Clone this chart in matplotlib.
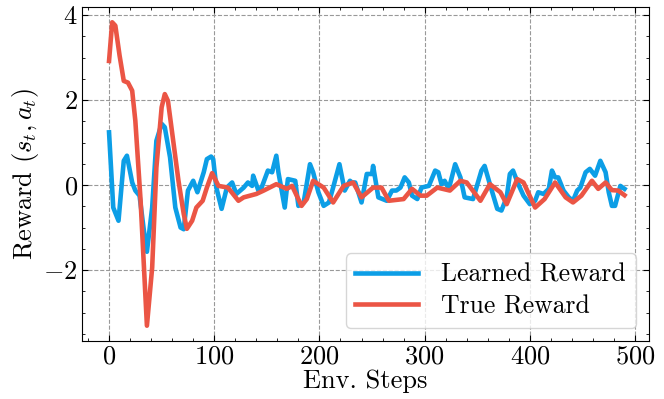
import matplotlib
matplotlib.use("Agg")
import matplotlib.pyplot as plt
from matplotlib.ticker import MultipleLocator

plt.rcParams.update({
    "font.family": "serif",
    "font.serif": ["cmr10", "DejaVu Serif"],
    "mathtext.fontset": "cm",
    "axes.formatter.use_mathtext": True,
    "axes.unicode_minus": True,
})

# Learned reward (blue)
steps_learned = [0, 4, 9, 14, 17, 22, 25, 29, 33, 36, 41, 45, 50, 53, 58, 63, 68, 71,
                 75, 80, 84, 90, 93, 97, 99, 102, 107, 112, 117, 121, 128, 132, 136,
                 137, 142, 145, 151, 155, 159, 161, 167, 170, 177, 180, 185, 191, 194,
                 199, 204, 209, 213, 219, 224, 229, 231, 234, 240, 245, 250, 251, 256,
                 264, 269, 273, 277, 281, 285, 288, 293, 297, 304, 310, 313, 316, 319,
                 323, 329, 334, 338, 346, 354, 357, 362, 369, 373, 378, 381, 384, 389,
                 394, 400, 405, 408, 413, 418, 421, 424, 427, 432, 437, 441, 445, 448,
                 453, 457, 462, 467, 472, 475, 478, 481, 486, 490]
learned = [1.24, -0.53, -0.84, 0.57, 0.69, 0.06, -0.13, -0.25, -1.05, -1.57, -0.53,
           1.04, 1.44, 1.36, 0.65, -0.53, -1.0, -1.04, -0.13, 0.10, -0.17, 0.30, 0.61,
           0.67, 0.61, -0.06, -0.56, -0.06, 0.06, -0.21, -0.06, 0.06, -0.02, 0.22,
           -0.13, -0.06, 0.34, 0.30, 0.69, 0.30, -0.53, 0.14, 0.10, -0.49, -0.41, 0.49,
           0.30, -0.17, -0.49, -0.41, -0.06, 0.49, -0.13, 0.10, 0.06, 0.06, -0.41,
           0.26, 0.26, 0.45, -0.29, -0.37, -0.13, -0.13, -0.06, 0.18, 0.06, -0.25,
           -0.33, -0.06, -0.02, 0.34, 0.30, 0.02, 0.10, -0.09, 0.49, 0.18, -0.29,
           -0.33, 0.34, 0.45, 0.02, -0.56, -0.60, -0.29, 0.26, 0.34, 0.02, -0.25,
           -0.45, -0.37, -0.17, -0.21, -0.09, 0.34, 0.18, 0.18, -0.13, -0.29, -0.37,
           -0.13, -0.06, 0.30, 0.38, 0.22, 0.57, 0.30, -0.17, -0.49, -0.49, -0.02, -0.09]

# True reward (red)
steps_true = [0, 3, 6, 10, 14, 18, 22, 25, 30, 36, 41, 45, 50, 53, 56, 61, 66, 71, 74,
              79, 83, 89, 93, 98, 104, 113, 123, 128, 140, 147, 159, 169, 174, 183,
              188, 194, 204, 213, 223, 232, 240, 251, 259, 266, 280, 288, 296, 302,
              312, 324, 334, 340, 353, 362, 372, 378, 388, 394, 405, 414, 424, 434,
              441, 449, 459, 465, 472, 478, 484, 490]
true_reward = [2.92, 3.83, 3.75, 3.05, 2.45, 2.41, 2.22, 1.51, -0.37, -3.31, -1.94,
               0.41, 1.83, 2.14, 1.98, 1.04, 0.10, -0.68, -1.03, -0.84, -0.53, -0.37,
               -0.06, 0.28, -0.02, -0.06, -0.37, -0.29, -0.21, -0.13, 0.02, -0.09,
               -0.02, -0.49, -0.33, 0.10, -0.06, -0.41, -0.02, 0.06, -0.29, -0.06,
               -0.06, -0.37, -0.33, -0.09, -0.25, -0.25, -0.06, -0.13, 0.10, 0.06,
               -0.37, 0.02, -0.17, -0.45, 0.14, 0.06, -0.53, -0.33, 0.06, -0.29, -0.41,
               -0.25, 0.10, -0.09, 0.06, -0.12, -0.13, -0.24]

fig = plt.figure(figsize=(6.64, 3.99), dpi=100)
ax = fig.add_axes([0.1235, 0.1454, 0.8535, 0.8371])

ax.plot(steps_learned, learned, color="#0C9EE6", lw=3.3, label="Learned Reward",
        solid_joinstyle="round")
ax.plot(steps_true, true_reward, color="#EB5545", lw=3.3, label="True Reward",
        solid_joinstyle="round")

ax.set_xlim(-25.7, 513)
ax.set_ylim(-3.67, 4.19)
ax.xaxis.set_major_locator(MultipleLocator(100))
ax.xaxis.set_minor_locator(MultipleLocator(20))
ax.yaxis.set_major_locator(MultipleLocator(2))
ax.yaxis.set_minor_locator(MultipleLocator(0.5))
ax.tick_params(which="both", direction="in", top=True, right=True, labelsize=19)
ax.tick_params(which="major", length=4, pad=3)
ax.tick_params(which="minor", length=2)
ax.grid(True, which="major", linestyle="--", color="#999999", lw=0.8)

ax.set_xlabel("Env. Steps", fontsize=19, labelpad=0)
ax.set_ylabel(r"Reward $(s_t, a_t)$", fontsize=19, labelpad=2)

ax.legend(loc="lower right", fontsize=18.5, frameon=True, fancybox=True,
          handlelength=2.45, handletextpad=0.9, borderpad=0.38, labelspacing=0.3)

fig.savefig("out.png", dpi=100)
